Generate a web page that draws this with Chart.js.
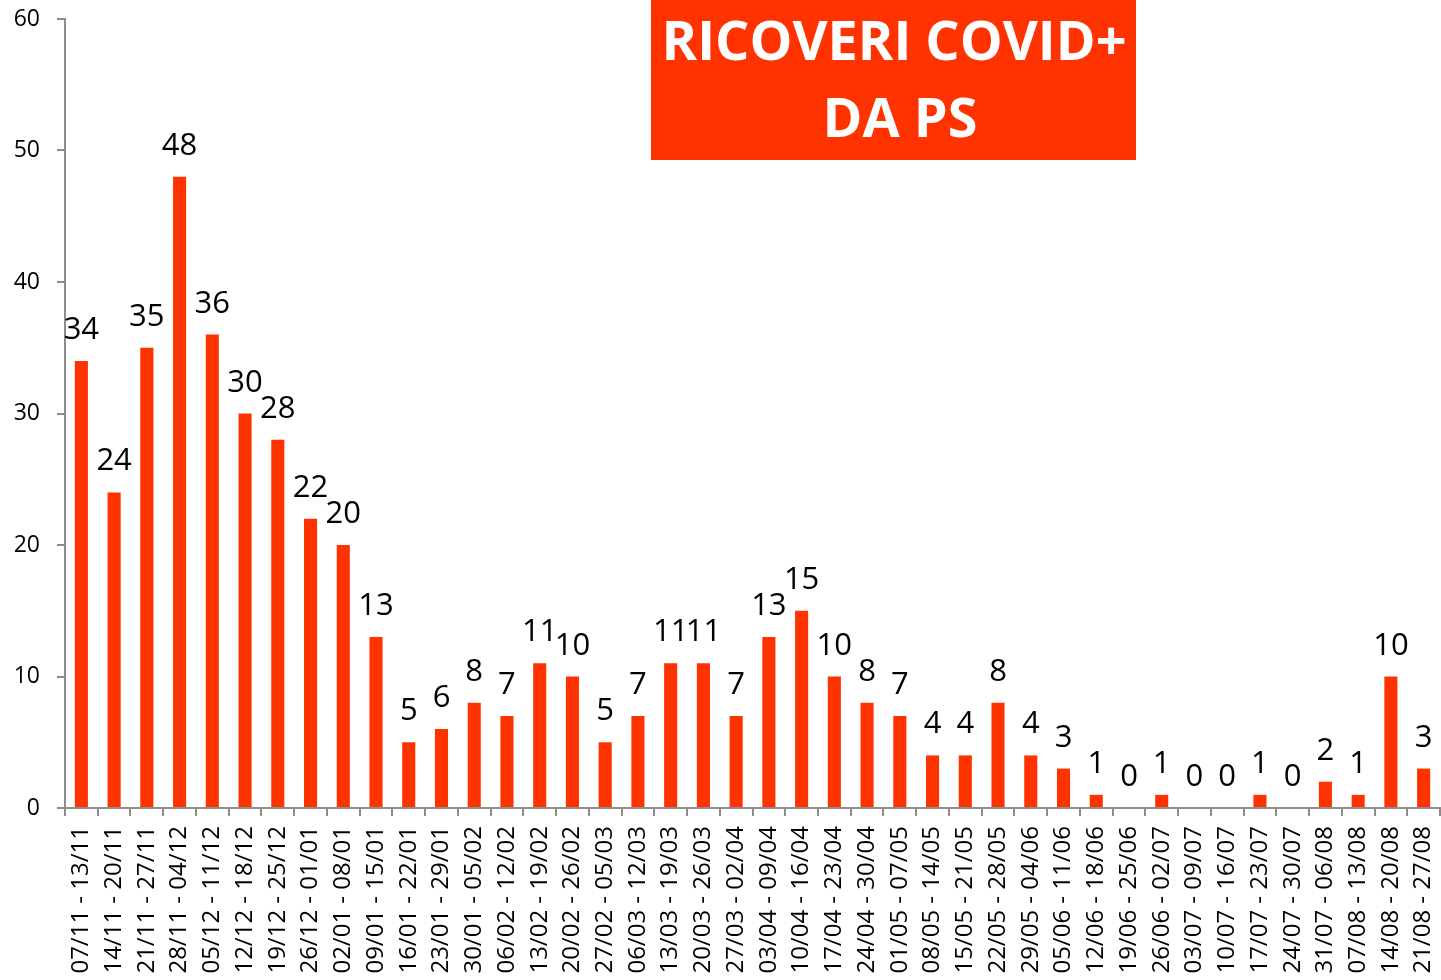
<!DOCTYPE html>
<html>
<head>
<meta charset="utf-8">
<script src="https://cdn.jsdelivr.net/npm/chart.js@4.4.1/dist/chart.umd.min.js"></script>
<style>
  html, body { margin: 0; padding: 0; background: #fff; }
  #wrap { position: relative; width: 1441px; height: 980px; }
</style>
</head>
<body>
<div id="wrap"><canvas id="c" width="1441" height="980"></canvas></div>
<script>
const categories = [
  "07/11 - 13/11","14/11 - 20/11","21/11 - 27/11","28/11 - 04/12","05/12 - 11/12",
  "12/12 - 18/12","19/12 - 25/12","26/12 - 01/01","02/01 - 08/01","09/01 - 15/01",
  "16/01 - 22/01","23/01 - 29/01","30/01 - 05/02","06/02 - 12/02","13/02 - 19/02",
  "20/02 - 26/02","27/02 - 05/03","06/03 - 12/03","13/03 - 19/03","20/03 - 26/03",
  "27/03 - 02/04","03/04 - 09/04","10/04 - 16/04","17/04 - 23/04","24/04 - 30/04",
  "01/05 - 07/05","08/05 - 14/05","15/05 - 21/05","22/05 - 28/05","29/05 - 04/06",
  "05/06 - 11/06","12/06 - 18/06","19/06 - 25/06","26/06 - 02/07","03/07 - 09/07",
  "10/07 - 16/07","17/07 - 23/07","24/07 - 30/07","31/07 - 06/08","07/08 - 13/08",
  "14/08 - 20/08","21/08 - 27/08"
];
const ricoveri = [
  34,24,35,48,36,30,28,22,20,13,
  5,6,8,7,11,10,5,7,11,11,
  7,13,15,10,8,7,4,4,8,4,
  3,1,0,1,0,0,1,0,2,1,
  10,3
];
const yTicks = [0,10,20,30,40,50,60];
const titleLines = ["RICOVERI COVID+", "DA PS"];

const BAR = '#FF3300';
const AXIS = '#8c8c8c';
const FONT = "'Open Sans', 'DejaVu Sans', sans-serif";

const valueLabels = {
  id: 'valueLabels',
  afterDatasetsDraw(chart) {
    const ctx = chart.ctx;
    const meta = chart.getDatasetMeta(0);
    ctx.save();
    ctx.font = "31px " + FONT;
    ctx.fillStyle = '#000';
    ctx.textAlign = 'center';
    ctx.textBaseline = 'alphabetic';
    meta.data.forEach((bar, i) => {
      ctx.fillText(String(chart.data.datasets[0].data[i]), bar.x, bar.y - 22);
    });
    ctx.restore();
  }
};

const titleBox = {
  id: 'titleBox',
  afterDraw(chart) {
    const ctx = chart.ctx;
    ctx.save();
    ctx.fillStyle = BAR;
    ctx.fillRect(651, 0, 485, 160);
    ctx.fillStyle = '#fff';
    ctx.font = "bold 54px " + FONT;
    ctx.textAlign = 'center';
    ctx.textBaseline = 'alphabetic';
    ctx.fillText(titleLines[0], 894, 60);
    ctx.fillText(titleLines[1], 900, 137);
    ctx.restore();
  }
};

new Chart(document.getElementById('c'), {
  type: 'bar',
  data: {
    labels: categories,
    datasets: [{
      data: ricoveri,
      backgroundColor: BAR,
      borderWidth: 0,
      barPercentage: 0.8,
      categoryPercentage: 0.5
    }]
  },
  options: {
    responsive: false,
    animation: false,
    devicePixelRatio: 1,
    layout: { padding: { top: 19, right: 1, left: 0, bottom: 0 } },
    plugins: { legend: { display: false }, tooltip: { enabled: false }, title: { display: false } },
    scales: {
      x: {
        offset: true,
        grid: { display: true, drawOnChartArea: false, drawTicks: true, tickLength: 8, color: AXIS, lineWidth: 2, offset: true },
        border: { display: true, color: AXIS, width: 2 },
        ticks: {
          autoSkip: false, maxRotation: 90, minRotation: 90, padding: 10,
          color: '#000', font: { family: FONT, size: 24 }
        },
        afterFit(scale) { scale.height = 172; scale.paddingLeft = 0; scale.paddingRight = 0; }
      },
      y: {
        min: 0, max: 60,
        afterBuildTicks(scale) { scale.ticks = yTicks.map(v => ({ value: v })); },
        grid: { display: true, drawOnChartArea: false, drawTicks: true, tickLength: 8, color: AXIS, lineWidth: 2 },
        border: { display: true, color: AXIS, width: 2 },
        ticks: { padding: 17, color: '#000', font: { family: FONT, size: 23 } },
        afterFit(scale) { scale.width = 65; scale.paddingTop = 0; scale.paddingBottom = 0; }
      }
    }
  },
  plugins: [valueLabels, titleBox]
});
</script>
</body>
</html>
